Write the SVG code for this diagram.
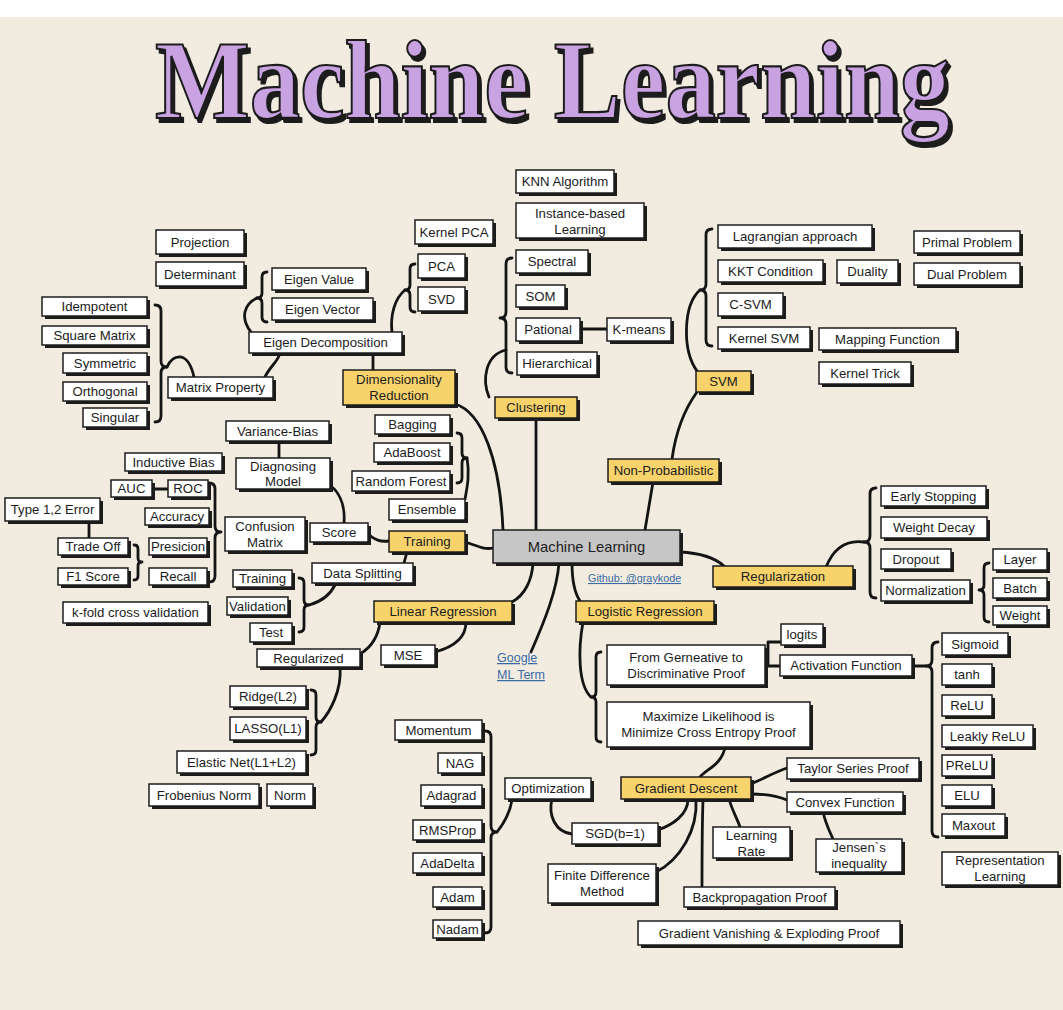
<svg xmlns="http://www.w3.org/2000/svg" width="1063" height="1010" viewBox="0 0 1063 1010">
<style>
.s{fill:#1c1c1c}
.b{fill:#ffffff;stroke:#1c1c1c;stroke-width:1.5}
.y{fill:#f8d36c}
.g{fill:#c6c6c6}
.t{font-family:"Liberation Sans",Arial,sans-serif;font-size:13.2px;fill:#1c1c1c;text-anchor:middle;dominant-baseline:central}
.c{fill:none;stroke:#141414;stroke-width:2.8;stroke-linecap:round;stroke-linejoin:round}
.lk{font-family:"Liberation Sans",Arial,sans-serif;fill:#3a6aa5;text-decoration:underline}
</style>
<defs>
<filter id="tsh" x="-5%" y="-10%" width="110%" height="130%">
<feDropShadow dx="3" dy="4" stdDeviation="0" flood-color="#1c1c1c" flood-opacity="1"/>
</filter>
</defs>
<rect x="0" y="0" width="1063" height="1010" fill="#f1ecdf"/>
<rect x="0" y="0" width="1063" height="17" fill="#ffffff"/>
<g id="title">
<text x="155" y="118" font-family="Liberation Serif,serif" font-weight="bold" font-size="112" textLength="795" lengthAdjust="spacingAndGlyphs" fill="#c9a2e2" stroke="#1c1c1c" stroke-width="2.2" filter="url(#tsh)">Machine Learning</text>
</g>
<g id="connectors">
<path class="c" d="M155,305 Q161,305 161,311 L161,361 Q161,367 167,367 Q161,367 161,373 L161,416 Q161,422 155,422"/>
<path class="c" d="M167,367 Q172,356 181,357 Q190,359 194,377"/>
<path class="c" d="M267,272 Q262,272 262,277 L262,293 Q262,298 257,298 Q262,298 262,303 L262,317 Q262,322 267,322"/>
<path class="c" d="M257,298 C244,304 240,318 251,332"/>
<path class="c" d="M415,264 Q410,264 410,269 L410,285 Q410,290 405,290 Q410,290 410,295 L410,307 Q410,312 415,312"/>
<path class="c" d="M405,290 C395,298 390,315 392,332"/>
<path class="c" d="M373,353 L373,370"/>
<path class="c" d="M265,377 C270,366 278,362 280,353"/>
<path class="c" d="M512,258 Q506,258 506,264 L506,312 Q506,318 500,318 Q506,318 506,324 L506,367 Q506,373 512,373"/>
<path class="c" d="M489,397 C482,380 485,355 506,350"/>
<path class="c" d="M580,329 L607,329"/>
<path class="c" d="M536,418 L536,530"/>
<path class="c" d="M455,404 C482,412 500,460 503,530"/>
<path class="c" d="M653,482 L645,530"/>
<path class="c" d="M697,392 C684,410 676,430 672,459"/>
<path class="c" d="M712,229 Q706,229 706,235 L706,284 Q706,290 700,290 Q706,290 706,296 L706,340 Q706,346 712,346"/>
<path class="c" d="M697,371 C682,350 683,305 700,290"/>
<path class="c" d="M680,552 C700,553 715,558 724,566"/>
<path class="c" d="M876,488 Q870,488 870,494 L870,536 Q870,542 864,542 Q870,542 870,548 L870,592 Q870,598 876,598"/>
<path class="c" d="M826,567 C835,545 850,540 864,542"/>
<path class="c" d="M989,563 Q984,563 984,568 L984,585 Q984,590 979,590 Q984,590 984,595 L984,617 Q984,622 989,622"/>
<path class="c" d="M457,433 Q462,433 462,438 L462,453 Q462,458 467,458 Q462,458 462,463 L462,478 Q462,483 457,483"/>
<path class="c" d="M467,458 C470,475 467,488 465,499"/>
<path class="c" d="M465,542 C478,546 484,550 493,548"/>
<path class="c" d="M368,534 C375,540 380,542 389,541"/>
<path class="c" d="M407,552 L404,563"/>
<path class="c" d="M279,441 L279,458"/>
<path class="c" d="M331,486 C342,495 345,510 344,523"/>
<path class="c" d="M209,483 Q215,483 215,489 L215,526 Q215,532 221,532 Q215,532 215,538 L215,576 Q215,582 209,582"/>
<path class="c" d="M152,489 L168,489"/>
<path class="c" d="M89,521 L89,538"/>
<path class="c" d="M134,545 Q138,545 138,549 L138,558 Q138,562 142,562 Q138,562 138,566 L138,576 Q138,580 134,580"/>
<path class="c" d="M299,578 Q304,578 304,583 L304,600 Q304,605 309,605 Q304,605 304,610 L304,627 Q304,632 299,632"/>
<path class="c" d="M309,605 C320,602 330,595 335,585"/>
<path class="c" d="M512,602 C525,595 532,580 533,563"/>
<path class="c" d="M531,652 C545,620 557,590 559,563"/>
<path class="c" d="M572,563 C572,585 576,595 580,601"/>
<path class="c" d="M380,622 C378,638 370,648 360,654"/>
<path class="c" d="M466,622 C466,640 450,648 435,652"/>
<path class="c" d="M311,690 Q316,690 316,695 L316,717 Q316,722 321,722 Q316,722 316,727 L316,750 Q316,755 311,755"/>
<path class="c" d="M340,667 C342,690 330,712 321,722"/>
<path class="c" d="M485,731 Q491,731 491,737 L491,826 Q491,832 497,832 Q491,832 491,838 L491,927 Q491,933 485,933"/>
<path class="c" d="M497,832 C505,822 510,812 512,800"/>
<path class="c" d="M601,652 Q596,652 596,657 L596,692 Q596,697 591,697 Q596,697 596,702 L596,737 Q596,742 601,742"/>
<path class="c" d="M583,622 C578,650 578,685 591,697"/>
<path class="c" d="M781,642 L768,642 L768,666 L780,666 M765,666 L768,666"/>
<path class="c" d="M912,666 L926,666"/>
<path class="c" d="M938,642 Q932,642 932,648 L932,660 Q932,666 926,666 Q932,666 932,672 L932,831 Q932,837 938,837"/>
<path class="c" d="M725,747 C722,765 705,770 700,777"/>
<path class="c" d="M751,784 C765,778 775,772 787,768"/>
<path class="c" d="M751,794 C765,794 775,795 787,800"/>
<path class="c" d="M823,812 C826,825 830,832 833,839"/>
<path class="c" d="M729,799 C732,810 737,818 740,827"/>
<path class="c" d="M703,799 C702,830 702,860 702,887"/>
<path class="c" d="M688,799 C688,815 672,825 658,830"/>
<path class="c" d="M696,799 C698,830 680,860 656,872"/>
<path class="c" d="M552,799 C548,815 555,832 572,834"/>
</g>
<g id="n-knn"><rect class="s" x="519" y="173" width="98" height="23"/><rect class="b" x="516" y="170" width="98" height="23"/><text class="t" x="565" y="181.5">KNN Algorithm</text></g>
<g id="n-instance"><rect class="s" x="519" y="206" width="128" height="35"/><rect class="b" x="516" y="203" width="128" height="35"/><text class="t" x="580" y="213">Instance-based</text><text class="t" x="580" y="229">Learning</text></g>
<g id="n-kernelpca"><rect class="s" x="418" y="223" width="78" height="24"/><rect class="b" x="415" y="220" width="78" height="24"/><text class="t" x="454" y="232">Kernel PCA</text></g>
<g id="n-projection"><rect class="s" x="159" y="233" width="88" height="24"/><rect class="b" x="156" y="230" width="88" height="24"/><text class="t" x="200" y="242">Projection</text></g>
<g id="n-determinant"><rect class="s" x="159" y="265" width="88" height="24"/><rect class="b" x="156" y="262" width="88" height="24"/><text class="t" x="200" y="274">Determinant</text></g>
<g id="n-eigenvalue"><rect class="s" x="275" y="271" width="94" height="22"/><rect class="b" x="272" y="268" width="94" height="22"/><text class="t" x="319" y="279">Eigen Value</text></g>
<g id="n-eigenvector"><rect class="s" x="275" y="301" width="101" height="22"/><rect class="b" x="272" y="298" width="101" height="22"/><text class="t" x="322.5" y="309">Eigen Vector</text></g>
<g id="n-pca"><rect class="s" x="421" y="257" width="47" height="24"/><rect class="b" x="418" y="254" width="47" height="24"/><text class="t" x="441.5" y="266">PCA</text></g>
<g id="n-svd"><rect class="s" x="421" y="290" width="47" height="24"/><rect class="b" x="418" y="287" width="47" height="24"/><text class="t" x="441.5" y="299">SVD</text></g>
<g id="n-spectral"><rect class="s" x="519" y="253" width="72" height="23"/><rect class="b" x="516" y="250" width="72" height="23"/><text class="t" x="552" y="261.5">Spectral</text></g>
<g id="n-som"><rect class="s" x="519" y="288" width="49" height="22"/><rect class="b" x="516" y="285" width="49" height="22"/><text class="t" x="540.5" y="296">SOM</text></g>
<g id="n-pational"><rect class="s" x="519" y="321" width="64" height="23"/><rect class="b" x="516" y="318" width="64" height="23"/><text class="t" x="548" y="329.5">Pational</text></g>
<g id="n-kmeans"><rect class="s" x="610" y="321" width="64" height="23"/><rect class="b" x="607" y="318" width="64" height="23"/><text class="t" x="639" y="329.5">K-means</text></g>
<g id="n-hierarchical"><rect class="s" x="520" y="355" width="80" height="23"/><rect class="b" x="517" y="352" width="80" height="23"/><text class="t" x="557" y="363.5">Hierarchical</text></g>
<g id="n-idempotent"><rect class="s" x="45" y="300" width="105" height="19"/><rect class="b" x="42" y="297" width="105" height="19"/><text class="t" x="94.5" y="306.5">Idempotent</text></g>
<g id="n-squarematrix"><rect class="s" x="45" y="329" width="105" height="19"/><rect class="b" x="42" y="326" width="105" height="19"/><text class="t" x="94.5" y="335.5">Square Matrix</text></g>
<g id="n-symmetric"><rect class="s" x="66" y="356" width="84" height="20"/><rect class="b" x="63" y="353" width="84" height="20"/><text class="t" x="105" y="363">Symmetric</text></g>
<g id="n-orthogonal"><rect class="s" x="66" y="385" width="84" height="19"/><rect class="b" x="63" y="382" width="84" height="19"/><text class="t" x="105" y="391.5">Orthogonal</text></g>
<g id="n-singular"><rect class="s" x="86" y="411" width="64" height="19"/><rect class="b" x="83" y="408" width="64" height="19"/><text class="t" x="115" y="417.5">Singular</text></g>
<g id="n-eigendecomp"><rect class="s" x="252" y="335" width="153" height="21"/><rect class="b" x="249" y="332" width="153" height="21"/><text class="t" x="325.5" y="342.5">Eigen Decomposition</text></g>
<g id="n-matrixprop"><rect class="s" x="171" y="380" width="105" height="21"/><rect class="b" x="168" y="377" width="105" height="21"/><text class="t" x="220.5" y="387.5">Matrix Property</text></g>
<g id="n-dimred"><rect class="s" x="346" y="373" width="112" height="35"/><rect class="b y" x="343" y="370" width="112" height="35"/><text class="t" x="399" y="379.5">Dimensionality</text><text class="t" x="399" y="395.5">Reduction</text></g>
<g id="n-clustering"><rect class="s" x="498" y="400" width="82" height="21"/><rect class="b y" x="495" y="397" width="82" height="21"/><text class="t" x="536" y="407.5">Clustering</text></g>
<g id="n-lagrangian"><rect class="s" x="721" y="228" width="154" height="23"/><rect class="b" x="718" y="225" width="154" height="23"/><text class="t" x="795" y="236.5">Lagrangian approach</text></g>
<g id="n-primal"><rect class="s" x="917" y="234" width="106" height="22"/><rect class="b" x="914" y="231" width="106" height="22"/><text class="t" x="967" y="242">Primal Problem</text></g>
<g id="n-kkt"><rect class="s" x="721" y="263" width="105" height="22"/><rect class="b" x="718" y="260" width="105" height="22"/><text class="t" x="770.5" y="271">KKT Condition</text></g>
<g id="n-duality"><rect class="s" x="840" y="263" width="61" height="23"/><rect class="b" x="837" y="260" width="61" height="23"/><text class="t" x="867.5" y="271.5">Duality</text></g>
<g id="n-dual"><rect class="s" x="917" y="266" width="106" height="22"/><rect class="b" x="914" y="263" width="106" height="22"/><text class="t" x="967" y="274">Dual Problem</text></g>
<g id="n-csvm"><rect class="s" x="721" y="296" width="65" height="23"/><rect class="b" x="718" y="293" width="65" height="23"/><text class="t" x="750.5" y="304.5">C-SVM</text></g>
<g id="n-kernelsvm"><rect class="s" x="721" y="330" width="92" height="22"/><rect class="b" x="718" y="327" width="92" height="22"/><text class="t" x="764" y="338">Kernel SVM</text></g>
<g id="n-mapping"><rect class="s" x="822" y="331" width="137" height="22"/><rect class="b" x="819" y="328" width="137" height="22"/><text class="t" x="887.5" y="339">Mapping Function</text></g>
<g id="n-kerneltrick"><rect class="s" x="822" y="365" width="92" height="22"/><rect class="b" x="819" y="362" width="92" height="22"/><text class="t" x="865" y="373">Kernel Trick</text></g>
<g id="n-svm"><rect class="s" x="699" y="374" width="55" height="21"/><rect class="b y" x="696" y="371" width="55" height="21"/><text class="t" x="723.5" y="381.5">SVM</text></g>
<g id="n-nonprob"><rect class="s" x="611" y="462" width="111" height="23"/><rect class="b y" x="608" y="459" width="111" height="23"/><text class="t" x="663.5" y="470.5">Non-Probabilistic</text></g>
<g id="n-center"><rect class="s" x="496" y="533" width="187" height="33"/><rect class="b g" x="493" y="530" width="187" height="33"/><text class="t" x="586.5" y="546.5" style="font-size:14.8px">Machine Learning</text></g>
<g id="n-github"><text class="lk" x="588" y="582" style="font-size:10.8px">Github: @graykode</text></g>
<g id="n-google"><text class="lk" x="497" y="662" style="font-size:12.5px">Google</text><text class="lk" x="497" y="679" style="font-size:12.5px">ML Term</text></g>
<g id="n-regularization"><rect class="s" x="716" y="569" width="140" height="21"/><rect class="b y" x="713" y="566" width="140" height="21"/><text class="t" x="783" y="576.5">Regularization</text></g>
<g id="n-early"><rect class="s" x="884" y="489" width="105" height="20"/><rect class="b" x="881" y="486" width="105" height="20"/><text class="t" x="933.5" y="496">Early Stopping</text></g>
<g id="n-weightdecay"><rect class="s" x="884" y="520" width="106" height="21"/><rect class="b" x="881" y="517" width="106" height="21"/><text class="t" x="934" y="527.5">Weight Decay</text></g>
<g id="n-dropout"><rect class="s" x="884" y="552" width="70" height="20"/><rect class="b" x="881" y="549" width="70" height="20"/><text class="t" x="916" y="559">Dropout</text></g>
<g id="n-normalization"><rect class="s" x="884" y="583" width="89" height="21"/><rect class="b" x="881" y="580" width="89" height="21"/><text class="t" x="925.5" y="590.5">Normalization</text></g>
<g id="n-layer"><rect class="s" x="996" y="552" width="54" height="21"/><rect class="b" x="993" y="549" width="54" height="21"/><text class="t" x="1020" y="559.5">Layer</text></g>
<g id="n-batch"><rect class="s" x="996" y="581" width="54" height="20"/><rect class="b" x="993" y="578" width="54" height="20"/><text class="t" x="1020" y="588">Batch</text></g>
<g id="n-weight"><rect class="s" x="996" y="609" width="54" height="19"/><rect class="b" x="993" y="606" width="54" height="19"/><text class="t" x="1020" y="615.5">Weight</text></g>
<g id="n-bagging"><rect class="s" x="378" y="418" width="75" height="19"/><rect class="b" x="375" y="415" width="75" height="19"/><text class="t" x="412.5" y="424.5">Bagging</text></g>
<g id="n-adaboost"><rect class="s" x="377" y="446" width="76" height="19"/><rect class="b" x="374" y="443" width="76" height="19"/><text class="t" x="412" y="452.5">AdaBoost</text></g>
<g id="n-randomforest"><rect class="s" x="355" y="474" width="98" height="20"/><rect class="b" x="352" y="471" width="98" height="20"/><text class="t" x="401" y="481">Random Forest</text></g>
<g id="n-ensemble"><rect class="s" x="392" y="502" width="76" height="21"/><rect class="b" x="389" y="499" width="76" height="21"/><text class="t" x="427" y="509.5">Ensemble</text></g>
<g id="n-training"><rect class="s" x="392" y="534" width="76" height="21"/><rect class="b y" x="389" y="531" width="76" height="21"/><text class="t" x="427" y="541.5">Training</text></g>
<g id="n-linreg"><rect class="s" x="377" y="604" width="138" height="21"/><rect class="b y" x="374" y="601" width="138" height="21"/><text class="t" x="443" y="611.5">Linear Regression</text></g>
<g id="n-logreg"><rect class="s" x="579" y="604" width="138" height="21"/><rect class="b y" x="576" y="601" width="138" height="21"/><text class="t" x="645" y="611.5">Logistic Regression</text></g>
<g id="n-mse"><rect class="s" x="384" y="648" width="54" height="20"/><rect class="b" x="381" y="645" width="54" height="20"/><text class="t" x="408" y="655">MSE</text></g>
<g id="n-variancebias"><rect class="s" x="229" y="424" width="103" height="20"/><rect class="b" x="226" y="421" width="103" height="20"/><text class="t" x="277.5" y="431">Variance-Bias</text></g>
<g id="n-diagnosing"><rect class="s" x="239" y="461" width="94" height="31"/><rect class="b" x="236" y="458" width="94" height="31"/><text class="t" x="283" y="466">Diagnosing</text><text class="t" x="283" y="481">Model</text></g>
<g id="n-inductive"><rect class="s" x="128" y="456" width="97" height="18"/><rect class="b" x="125" y="453" width="97" height="18"/><text class="t" x="173.5" y="462">Inductive Bias</text></g>
<g id="n-auc"><rect class="s" x="114" y="483" width="41" height="17"/><rect class="b" x="111" y="480" width="41" height="17"/><text class="t" x="131.5" y="488.5">AUC</text></g>
<g id="n-roc"><rect class="s" x="171" y="483" width="40" height="17"/><rect class="b" x="168" y="480" width="40" height="17"/><text class="t" x="188" y="488.5">ROC</text></g>
<g id="n-type12"><rect class="s" x="8" y="501" width="95" height="23"/><rect class="b" x="5" y="498" width="95" height="23"/><text class="t" x="52.5" y="509.5">Type 1,2 Error</text></g>
<g id="n-accuracy"><rect class="s" x="148" y="511" width="64" height="17"/><rect class="b" x="145" y="508" width="64" height="17"/><text class="t" x="177" y="516.5">Accuracy</text></g>
<g id="n-confusion"><rect class="s" x="228" y="520" width="80" height="34"/><rect class="b" x="225" y="517" width="80" height="34"/><text class="t" x="265" y="526">Confusion</text><text class="t" x="265" y="542">Matrix</text></g>
<g id="n-score"><rect class="s" x="313" y="526" width="58" height="19"/><rect class="b" x="310" y="523" width="58" height="19"/><text class="t" x="339" y="532.5">Score</text></g>
<g id="n-tradeoff"><rect class="s" x="61" y="541" width="70" height="17"/><rect class="b" x="58" y="538" width="70" height="17"/><text class="t" x="93" y="546.5">Trade Off</text></g>
<g id="n-presicion"><rect class="s" x="152" y="541" width="58" height="17"/><rect class="b" x="149" y="538" width="58" height="17"/><text class="t" x="178" y="546.5">Presicion</text></g>
<g id="n-f1"><rect class="s" x="61" y="571" width="70" height="17"/><rect class="b" x="58" y="568" width="70" height="17"/><text class="t" x="93" y="576.5">F1 Score</text></g>
<g id="n-recall"><rect class="s" x="152" y="571" width="58" height="17"/><rect class="b" x="149" y="568" width="58" height="17"/><text class="t" x="178" y="576.5">Recall</text></g>
<g id="n-kfold"><rect class="s" x="66" y="605" width="145" height="21"/><rect class="b" x="63" y="602" width="145" height="21"/><text class="t" x="135.5" y="612.5">k-fold cross validation</text></g>
<g id="n-trainingw"><rect class="s" x="236" y="573" width="59" height="17"/><rect class="b" x="233" y="570" width="59" height="17"/><text class="t" x="262.5" y="578.5">Training</text></g>
<g id="n-validation"><rect class="s" x="230" y="600" width="61" height="18"/><rect class="b" x="227" y="597" width="61" height="18"/><text class="t" x="257.5" y="606">Validation</text></g>
<g id="n-test"><rect class="s" x="253" y="626" width="42" height="19"/><rect class="b" x="250" y="623" width="42" height="19"/><text class="t" x="271" y="632.5">Test</text></g>
<g id="n-datasplit"><rect class="s" x="315" y="566" width="101" height="20"/><rect class="b" x="312" y="563" width="101" height="20"/><text class="t" x="362.5" y="573">Data Splitting</text></g>
<g id="n-regularized"><rect class="s" x="260" y="652" width="103" height="18"/><rect class="b" x="257" y="649" width="103" height="18"/><text class="t" x="308.5" y="658">Regularized</text></g>
<g id="n-ridge"><rect class="s" x="233" y="689" width="76" height="21"/><rect class="b" x="230" y="686" width="76" height="21"/><text class="t" x="268" y="696.5">Ridge(L2)</text></g>
<g id="n-lasso"><rect class="s" x="233" y="720" width="76" height="23"/><rect class="b" x="230" y="717" width="76" height="23"/><text class="t" x="268" y="728.5">LASSO(L1)</text></g>
<g id="n-elastic"><rect class="s" x="180" y="754" width="129" height="22"/><rect class="b" x="177" y="751" width="129" height="22"/><text class="t" x="241.5" y="762">Elastic Net(L1+L2)</text></g>
<g id="n-frobenius"><rect class="s" x="152" y="787" width="110" height="22"/><rect class="b" x="149" y="784" width="110" height="22"/><text class="t" x="204" y="795">Frobenius Norm</text></g>
<g id="n-norm"><rect class="s" x="270" y="787" width="46" height="22"/><rect class="b" x="267" y="784" width="46" height="22"/><text class="t" x="290" y="795">Norm</text></g>
<g id="n-momentum"><rect class="s" x="398" y="723" width="87" height="20"/><rect class="b" x="395" y="720" width="87" height="20"/><text class="t" x="438.5" y="730">Momentum</text></g>
<g id="n-nag"><rect class="s" x="441" y="756" width="44" height="20"/><rect class="b" x="438" y="753" width="44" height="20"/><text class="t" x="460" y="763">NAG</text></g>
<g id="n-adagrad"><rect class="s" x="424" y="788" width="61" height="21"/><rect class="b" x="421" y="785" width="61" height="21"/><text class="t" x="451.5" y="795.5">Adagrad</text></g>
<g id="n-rmsprop"><rect class="s" x="416" y="823" width="69" height="20"/><rect class="b" x="413" y="820" width="69" height="20"/><text class="t" x="447.5" y="830">RMSProp</text></g>
<g id="n-adadelta"><rect class="s" x="416" y="856" width="69" height="20"/><rect class="b" x="413" y="853" width="69" height="20"/><text class="t" x="447.5" y="863">AdaDelta</text></g>
<g id="n-adam"><rect class="s" x="436" y="890" width="49" height="20"/><rect class="b" x="433" y="887" width="49" height="20"/><text class="t" x="457.5" y="897">Adam</text></g>
<g id="n-nadam"><rect class="s" x="436" y="923" width="49" height="18"/><rect class="b" x="433" y="920" width="49" height="18"/><text class="t" x="457.5" y="929">Nadam</text></g>
<g id="n-optimization"><rect class="s" x="508" y="781" width="86" height="21"/><rect class="b" x="505" y="778" width="86" height="21"/><text class="t" x="548" y="788.5">Optimization</text></g>
<g id="n-sgd"><rect class="s" x="575" y="826" width="86" height="21"/><rect class="b" x="572" y="823" width="86" height="21"/><text class="t" x="615" y="833.5">SGD(b=1)</text></g>
<g id="n-finite"><rect class="s" x="551" y="867" width="108" height="39"/><rect class="b" x="548" y="864" width="108" height="39"/><text class="t" x="602" y="875.5">Finite Difference</text><text class="t" x="602" y="891.5">Method</text></g>
<g id="n-gd"><rect class="s" x="624" y="780" width="130" height="22"/><rect class="b y" x="621" y="777" width="130" height="22"/><text class="t" x="686" y="788">Gradient Descent</text></g>
<g id="n-taylor"><rect class="s" x="790" y="761" width="132" height="21"/><rect class="b" x="787" y="758" width="132" height="21"/><text class="t" x="853" y="768.5">Taylor Series Proof</text></g>
<g id="n-convex"><rect class="s" x="790" y="795" width="116" height="20"/><rect class="b" x="787" y="792" width="116" height="20"/><text class="t" x="845" y="802">Convex Function</text></g>
<g id="n-lr"><rect class="s" x="716" y="830" width="77" height="31"/><rect class="b" x="713" y="827" width="77" height="31"/><text class="t" x="751.5" y="835">Learning</text><text class="t" x="751.5" y="851">Rate</text></g>
<g id="n-jensen"><rect class="s" x="819" y="842" width="86" height="33"/><rect class="b" x="816" y="839" width="86" height="33"/><text class="t" x="859" y="847.5">Jensen`s</text><text class="t" x="859" y="863.5">inequality</text></g>
<g id="n-backprop"><rect class="s" x="687" y="890" width="151" height="20"/><rect class="b" x="684" y="887" width="151" height="20"/><text class="t" x="759.5" y="897">Backpropagation Proof</text></g>
<g id="n-gradvanish"><rect class="s" x="641" y="924" width="262" height="24"/><rect class="b" x="638" y="921" width="262" height="24"/><text class="t" x="769" y="933">Gradient Vanishing &amp; Exploding Proof</text></g>
<g id="n-logits"><rect class="s" x="784" y="627" width="42" height="21"/><rect class="b" x="781" y="624" width="42" height="21"/><text class="t" x="802" y="634.5">logits</text></g>
<g id="n-fromgen"><rect class="s" x="610" y="648" width="158" height="40"/><rect class="b" x="607" y="645" width="158" height="40"/><text class="t" x="686" y="657">From Gerneative to</text><text class="t" x="686" y="673">Discriminative Proof</text></g>
<g id="n-activation"><rect class="s" x="783" y="658" width="132" height="21"/><rect class="b" x="780" y="655" width="132" height="21"/><text class="t" x="846" y="665.5">Activation Function</text></g>
<g id="n-maxlik"><rect class="s" x="610" y="705" width="203" height="45"/><rect class="b" x="607" y="702" width="203" height="45"/><text class="t" x="708.5" y="716">Maximize Likelihood is</text><text class="t" x="708.5" y="732">Minimize Cross Entropy Proof</text></g>
<g id="n-sigmoid"><rect class="s" x="945" y="636" width="66" height="22"/><rect class="b" x="942" y="633" width="66" height="22"/><text class="t" x="975" y="644">Sigmoid</text></g>
<g id="n-tanh"><rect class="s" x="945" y="667" width="50" height="21"/><rect class="b" x="942" y="664" width="50" height="21"/><text class="t" x="967" y="674.5">tanh</text></g>
<g id="n-relu"><rect class="s" x="945" y="698" width="50" height="21"/><rect class="b" x="942" y="695" width="50" height="21"/><text class="t" x="967" y="705.5">ReLU</text></g>
<g id="n-leaky"><rect class="s" x="945" y="728" width="91" height="22"/><rect class="b" x="942" y="725" width="91" height="22"/><text class="t" x="987.5" y="736">Leakly ReLU</text></g>
<g id="n-prelu"><rect class="s" x="945" y="758" width="50" height="21"/><rect class="b" x="942" y="755" width="50" height="21"/><text class="t" x="967" y="765.5">PReLU</text></g>
<g id="n-elu"><rect class="s" x="945" y="788" width="50" height="21"/><rect class="b" x="942" y="785" width="50" height="21"/><text class="t" x="967" y="795.5">ELU</text></g>
<g id="n-maxout"><rect class="s" x="945" y="817" width="63" height="22"/><rect class="b" x="942" y="814" width="63" height="22"/><text class="t" x="973.5" y="825">Maxout</text></g>
<g id="n-replearn"><rect class="s" x="945" y="855" width="116" height="33"/><rect class="b" x="942" y="852" width="116" height="33"/><text class="t" x="1000" y="860.5">Representation</text><text class="t" x="1000" y="876.5">Learning</text></g>
</svg>
